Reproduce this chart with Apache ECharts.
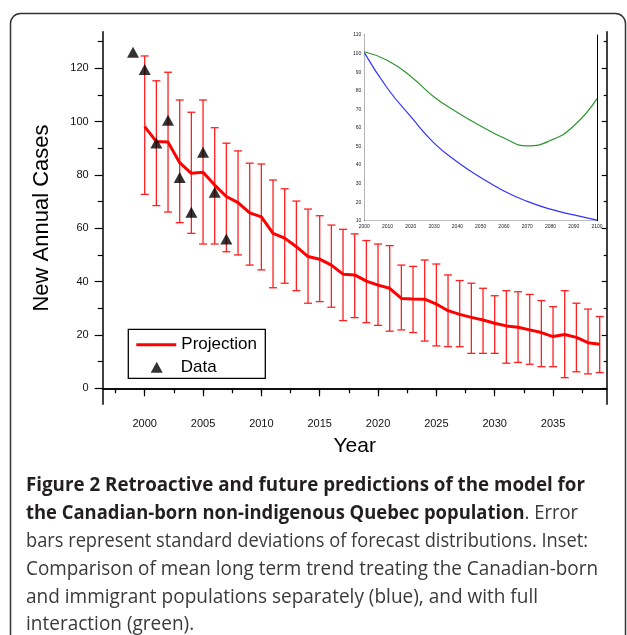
<!DOCTYPE html>
<html><head><meta charset="utf-8">
<script src="https://cdn.jsdelivr.net/npm/echarts@6/dist/echarts.min.js"></script>
<style>html,body{margin:0;padding:0;background:#fff}#c{width:627px;height:635px}</style>
</head><body><div id="c"></div>
<script>
// ---------- data ----------
const projYears = [2000,2001,2002,2003,2004,2005,2006,2007,2008,2009,2010,2011,2012,2013,2014,2015,2016,2017,2018,2019,2020,2021,2022,2023,2024,2025,2026,2027,2028,2029,2030,2031,2032,2033,2034,2035,2036,2037,2038,2039];
const projection = [98.1,92.5,92.3,84.6,80.6,81.0,76.2,71.9,69.6,65.8,64.3,58.1,56.3,53.1,49.4,48.4,46.2,42.8,42.5,40.2,38.7,37.5,33.7,33.5,33.4,31.6,29.1,27.7,26.6,25.6,24.4,23.4,22.9,21.9,20.9,19.4,20.2,19.1,17.1,16.5];
const errTop = [124.6,115.3,118.5,108.1,103.5,108.1,97.7,91.9,89.0,84.4,84.1,78.1,74.8,70.2,67.2,64.7,61.2,59.6,57.9,55.4,54.1,53.5,46.2,45.7,48.1,46.6,42.5,40.4,39.4,37.5,34.7,36.6,36.2,35.2,32.9,30.6,36.6,31.9,29.7,26.9];
const errBottom = [72.7,68.5,66.1,62.1,58.1,54.1,54.1,51.2,50.0,46.2,44.4,37.7,39.4,36.6,31.9,32.5,30.4,25.4,26.5,24.6,23.6,21.4,21.9,20.9,17.7,15.9,15.6,15.6,13.1,13.1,13.1,9.4,9.7,9.0,8.1,8.1,4.0,6.2,5.4,5.9];
const dataYears = [1999,2000,2001,2002,2003,2004,2005,2006,2007];
const dataValues = [126,119.5,92,100.5,79,66,88.5,73.5,56];

const xMajorTicks = [2000,2005,2010,2015,2020,2025,2030,2035];
const xMinorTicks = [1997.5,2002.5,2007.5,2012.5,2017.5,2022.5,2027.5,2032.5,2037.5];
const yMajorTicks = [0,20,40,60,80,100,120];
const yMinorTicks = [10,30,50,70,90,110,130];

const insetYears = [2000,2010,2020,2030,2040,2050,2060,2070,2080,2090,2100];
const insetSeparate = [100.5,81.2,66.0,51.8,41.6,33.3,26.0,20.4,16.2,13.1,10.3];   // blue
const insetInteraction = [101.0,96.3,87.7,76.6,68.3,61.0,54.5,50.3,53.2,61.0,75.7]; // green

const captionLines = [
  [["Figure 2 Retroactive and future predictions of the model for", true]],
  [["the Canadian-born non-indigenous Quebec population", true], [". Error", false]],
  [["bars represent standard deviations of forecast distributions. Inset:", false]],
  [["Comparison of mean long term trend treating the Canadian-born", false]],
  [["and immigrant populations separately (blue), and with full", false]],
  [["interaction (green).", false]]
];

// ---------- layout ----------
const FONT = 'Liberation Sans, Arial, sans-serif';
const capFont = '"Open Sans"';
const capSize = 20;
const capX = 26;
const capY = [485, 513, 541, 569, 597, 624];
const capEnds = [585, 578, 588, 598, 538, null];

const cv = document.createElement('canvas').getContext('2d');
function measure(segs){
  let w = 0;
  segs.forEach(([t,b])=>{ cv.font = (b?'bold ':'') + capSize + 'px ' + capFont; w += cv.measureText(t).width; });
  return w;
}
let lastScale = 0.9;
const captionEls = captionLines.map((segs,i)=>{
  const w = measure(segs);
  let s = capEnds[i] ? (capEnds[i]-capX)/w : lastScale;
  lastScale = s;
  const text = segs.map(([t,b])=>'{'+(b?'b':'r')+'|'+t+'}').join('');
  return {
    type:'text', x: capX, y: capY[i], scaleX: s, z: 100,
    style:{ text, verticalAlign:'middle',
      rich:{
        b:{fontFamily: capFont, fontSize: capSize, fontWeight:'bold', fill:'#231f20'},
        r:{fontFamily: capFont, fontSize: capSize, fontWeight:'normal', fill:'#3a3a3a'}
      }}
  };
});

const chart = echarts.init(document.getElementById('c'), null, {renderer:'canvas'});

const plain = v => String(v);
const tickLbl = {fontFamily: FONT, fontSize: 11, color:'#111', formatter: plain};
const blk = {color:'#000', width:1.5};

const option = {
  animation: false,
  backgroundColor: '#fff',
  grid: [
    {left:102.7, right:20.3, top:31.7, bottom:230.7, outerBoundsMode:'none'},
    {left:364.3, right:30, top:35, bottom:414.3, show:true, backgroundColor:'#fff', borderWidth:0, outerBoundsMode:'none', z:3}
  ],
  xAxis: [
    {type:'value', gridIndex:0, position:'bottom', min:1996.4, max:2039.6,
      axisLine:{lineStyle:blk}, splitLine:{show:false},
      axisTick:{customValues:xMajorTicks, length:8, lineStyle:{color:'#000',width:1.2}},
      axisLabel:{customValues:xMajorTicks, margin:14, ...tickLbl},
      name:'Year', nameLocation:'middle', nameGap:31,
      nameTextStyle:{fontFamily:FONT, fontSize:21, color:'#000'}},
    {type:'value', gridIndex:0, position:'bottom', min:1996.4, max:2039.6,
      axisLine:{show:false}, splitLine:{show:false}, axisLabel:{show:false},
      axisTick:{customValues:xMinorTicks, length:5, lineStyle:{color:'#000',width:1.2}}},
    {type:'value', gridIndex:0, position:'top', min:1996.4, max:2039.6,
      axisLine:{lineStyle:blk}, splitLine:{show:false}, axisLabel:{show:false},
      axisTick:{customValues:xMajorTicks, inside:true, length:5, lineStyle:{color:'#000',width:1.2}}},
    {type:'value', gridIndex:0, position:'top', min:1996.4, max:2039.6,
      axisLine:{show:false}, splitLine:{show:false}, axisLabel:{show:false},
      axisTick:{customValues:xMinorTicks, inside:true, length:3, lineStyle:{color:'#000',width:1.2}}},
    {type:'value', gridIndex:1, position:'bottom', min:2000, max:2100, interval:10,
      axisLine:{lineStyle:{color:'#000',width:1}}, splitLine:{show:false},
      axisTick:{inside:true, length:2.5, lineStyle:{color:'#000',width:0.8}},
      axisLabel:{fontFamily:FONT, fontSize:5, color:'#222', margin:3, formatter: plain}},
    {type:'value', gridIndex:1, position:'top', min:2000, max:2100, interval:10,
      axisLine:{lineStyle:{color:'#000',width:1}}, splitLine:{show:false}, axisLabel:{show:false},
      axisTick:{inside:true, length:2.5, lineStyle:{color:'#000',width:0.8}}}
  ],
  yAxis: [
    {type:'value', gridIndex:0, position:'left', min:-6, max:133.7,
      axisLine:{lineStyle:blk}, splitLine:{show:false},
      axisTick:{customValues:yMajorTicks, length:8, lineStyle:{color:'#000',width:1.2}},
      axisLabel:{customValues:yMajorTicks, margin:14, ...tickLbl},
      name:'New Annual Cases', nameLocation:'middle', nameGap:50, nameRotate:90,
      nameTextStyle:{fontFamily:FONT, fontSize:22, color:'#000'}},
    {type:'value', gridIndex:0, position:'left', min:-6, max:133.7,
      axisLine:{show:false}, splitLine:{show:false}, axisLabel:{show:false},
      axisTick:{customValues:yMinorTicks, length:5, lineStyle:{color:'#000',width:1.2}}},
    {type:'value', gridIndex:0, position:'right', min:-6, max:133.7,
      axisLine:{lineStyle:blk}, splitLine:{show:false}, axisLabel:{show:false},
      axisTick:{customValues:yMajorTicks, inside:true, length:5, lineStyle:{color:'#000',width:1.2}}},
    {type:'value', gridIndex:0, position:'right', min:-6, max:133.7,
      axisLine:{show:false}, splitLine:{show:false}, axisLabel:{show:false},
      axisTick:{customValues:yMinorTicks, inside:true, length:3, lineStyle:{color:'#000',width:1.2}}},
    {type:'value', gridIndex:1, position:'left', min:10, max:110, interval:10,
      axisLine:{lineStyle:{color:'#000',width:1}}, splitLine:{show:false},
      axisTick:{inside:true, length:2.5, lineStyle:{color:'#000',width:0.8}},
      axisLabel:{fontFamily:FONT, fontSize:5, color:'#222', margin:3, formatter: plain}},
    {type:'value', gridIndex:1, position:'right', min:10, max:110, interval:10,
      axisLine:{lineStyle:{color:'#000',width:1}}, splitLine:{show:false}, axisLabel:{show:false},
      axisTick:{inside:true, length:2.5, lineStyle:{color:'#000',width:0.8}}}
  ],
  legend: [
    {data:[{name:'Projection', icon:'path://M0,0H40V3H0Z'}], orient:'vertical', left:136.3, top:336.3,
      padding:0, itemWidth:40, itemHeight:14,
      textStyle:{fontFamily:FONT, fontSize:17, color:'#000'}, selectedMode:false},
    {data:[{name:'Data', icon:'path://M6,0L12,11L0,11Z'}], orient:'vertical', left:150.7, top:358.8,
      padding:0, itemWidth:12, itemHeight:11,
      textStyle:{fontFamily:FONT, fontSize:17, color:'#000', padding:[0,0,0,13]}, selectedMode:false}
  ],
  series: [
    {type:'custom', xAxisIndex:0, yAxisIndex:0, z:2, silent:true,
      data: projYears.map((y,i)=>[y, errBottom[i], errTop[i]]),
      encode:{x:0, y:[1,2]},
      renderItem:(params, api)=>{
        const x = api.value(0);
        const lo = api.coord([x, api.value(1)]);
        const hi = api.coord([x, api.value(2)]);
        const w = 4;
        const st = {stroke:'#ff1f1f', lineWidth:1.3};
        return {type:'group', children:[
          {type:'line', shape:{x1:lo[0],y1:lo[1],x2:hi[0],y2:hi[1]}, style:st},
          {type:'line', shape:{x1:lo[0]-w,y1:lo[1],x2:lo[0]+w,y2:lo[1]}, style:st},
          {type:'line', shape:{x1:hi[0]-w,y1:hi[1],x2:hi[0]+w,y2:hi[1]}, style:st}
        ]};
      }},
    {name:'Projection', type:'line', xAxisIndex:0, yAxisIndex:0, z:3,
      data: projYears.map((y,i)=>[y, projection[i]]),
      symbol:'none', lineStyle:{color:'#ff0000', width:3}, itemStyle:{color:'#ff0000'}},
    {name:'Data', type:'scatter', xAxisIndex:0, yAxisIndex:0, z:4,
      data: dataYears.map((y,i)=>[y, dataValues[i]]),
      symbol:'triangle', symbolSize:[12,11], itemStyle:{color:'#000'}},
    {name:'separate', type:'line', xAxisIndex:4, yAxisIndex:4, z:5, smooth:true,
      data: insetYears.map((y,i)=>[y, insetSeparate[i]]),
      symbol:'none', lineStyle:{color:'#3333ff', width:1.2}},
    {name:'interaction', type:'line', xAxisIndex:4, yAxisIndex:4, z:5, smooth:true,
      data: insetYears.map((y,i)=>[y, insetInteraction[i]]),
      symbol:'none', lineStyle:{color:'#2e962e', width:1.2}}
  ],
  graphic: [
    {type:'rect', shape:{x:10.5, y:13.5, width:615, height:700, r:10},
      style:{fill:null, stroke:'#333', lineWidth:1.5}, z:100, silent:true},
    {type:'rect', shape:{x:128.3, y:329.3, width:137, height:49},
      style:{fill:'#fff', stroke:'#000', lineWidth:1.3}, z:0, silent:true},
    ...captionEls
  ]
};
chart.setOption(option);
</script>
</body></html>
